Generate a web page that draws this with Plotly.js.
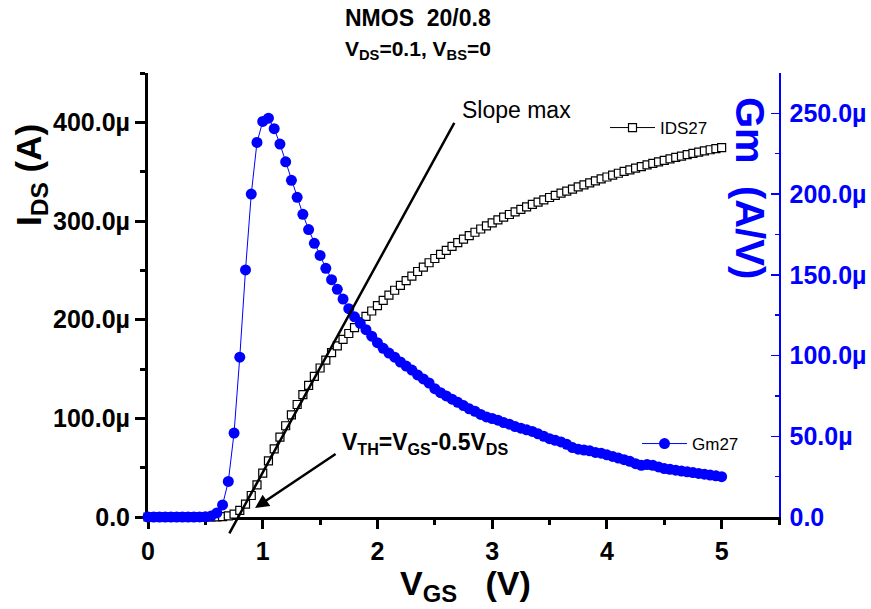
<!DOCTYPE html>
<html>
<head>
<meta charset="utf-8">
<script src="https://cdn.plot.ly/plotly-3.0.1.min.js"></script>
<style>
html,body{margin:0;padding:0;background:#fff;}
#chart{width:871px;height:609px;}
</style>
</head>
<body>
<div id="chart"></div>
<script>
// ---- data (V, µA / µS) ----
const VGS = [0.00,0.05,0.10,0.15,0.20,0.25,0.30,0.35,0.40,0.45,
  0.50,0.55,0.60,0.65,0.70,0.75,0.80,0.85,0.90,0.95,
  1.00,1.05,1.10,1.15,1.20,1.25,1.30,1.35,1.40,1.45,
  1.50,1.55,1.60,1.65,1.70,1.75,1.80,1.85,1.90,1.95,
  2.00,2.05,2.10,2.15,2.20,2.25,2.30,2.35,2.40,2.45,
  2.50,2.55,2.60,2.65,2.70,2.75,2.80,2.85,2.90,2.95,
  3.00,3.05,3.10,3.15,3.20,3.25,3.30,3.35,3.40,3.45,
  3.50,3.55,3.60,3.65,3.70,3.75,3.80,3.85,3.90,3.95,
  4.00,4.05,4.10,4.15,4.20,4.25,4.30,4.35,4.40,4.45,
  4.50,4.55,4.60,4.65,4.70,4.75,4.80,4.85,4.90,4.95,5.00];

const IDS27_uA = [0,0,0,0,0,0,0,0,0,0,
  0.0,0.02,0.1,0.35,1.1,3.0,6.7,13.0,21.8,32.6,
  44.5,56.8,69.0,81.0,92.5,103.5,114.0,124.0,133.5,142.5,
  151.0,159.0,166.5,173.5,180.0,186.0,192.0,197.8,203.4,208.8,
  214.3,219.6,224.8,229.8,234.7,239.5,244.2,248.8,253.3,257.7,
  262.0,266.2,270.3,274.2,278.0,281.7,285.2,288.6,291.9,295.1,
  298.2,301.1,303.9,306.6,309.2,311.8,314.3,316.8,319.2,321.5,
  323.8,326.0,328.2,330.3,332.4,334.5,336.6,338.7,340.7,342.7,
  344.6,346.5,348.4,350.2,351.9,353.6,355.2,356.8,358.4,360.0,
  361.5,363.0,364.4,365.8,367.2,368.5,369.8,371.0,372.2,373.3,374.4];

const Gm27_uS = [0,0,0,0,0,0,0,0,0,0.05,
  0.15,0.6,2.5,7.5,22,52,99,153,200,232,
  245,247,240.5,231,220,208.5,198,187.5,178,169.5,
  162,154,147,141,135,129,124,120,116,112,
  108,104.5,101.5,99,96,93.5,91,88,85.5,83,
  79.5,77,75,73,71,69,67,65.5,63.5,62,
  61,60,58.5,57.5,56,55,54,53,51.5,50,
  48.5,47.5,46.5,45,43,42,41.5,41,40,39.5,
  38.5,37.5,36.5,35.5,34.5,33,32,32.5,32,31,
  30,29.5,29,28.5,28,27.5,27,26.5,26,25.5,25];

const leftTickVals = [0,100e-6,200e-6,300e-6,400e-6];
const leftTickText = ['0.0','100.0\u00B5','200.0\u00B5','300.0\u00B5','400.0\u00B5'];
const rightTickVals = [0,50e-6,100e-6,150e-6,200e-6,250e-6];
const rightTickText = ['0.0','50.0\u00B5','100.0\u00B5','150.0\u00B5','200.0\u00B5','250.0\u00B5'];
const xTickVals = [0,1,2,3,4,5];
const xTickText = ['0','1','2','3','4','5'];

const IDS27 = IDS27_uA.map(v => v*1e-6);
const Gm27 = Gm27_uS.map(v => v*1e-6);

// ---- layout helpers (pixel -> paper) ----
const L = 148, T = 73, W = 631, H = 444;
const px = x => (x - L) / W;
const py = y => (T + H - y) / H;

const FONT = 'Liberation Sans, Arial, sans-serif';
const BLUE = '#0000FF';

const traces = [
  {
    x: VGS, y: IDS27, name: 'IDS27', type: 'scatter', mode: 'lines+markers',
    xaxis: 'x', yaxis: 'y', legend: 'legend', cliponaxis: false,
    line: {color: '#000', width: 1},
    marker: {symbol: 'square', size: 8, color: '#fff', line: {color: '#000', width: 1.2}}
  },
  {
    x: VGS, y: Gm27, name: 'Gm27', type: 'scatter', mode: 'lines+markers',
    xaxis: 'x', yaxis: 'y2', legend: 'legend2', cliponaxis: false,
    line: {color: BLUE, width: 1},
    marker: {symbol: 'circle', size: 11, color: BLUE}
  }
];

const layout = {
  width: 871, height: 609,
  margin: {l: L, r: 871 - L - W, t: T, b: 609 - T - H, pad: 0},
  paper_bgcolor: '#fff', plot_bgcolor: '#fff',
  font: {family: FONT, color: '#000'},
  showlegend: true,
  xaxis: {
    range: [0, 5.5], tickmode: 'array', tickvals: xTickVals, ticktext: xTickText,
    ticks: 'outside', ticklen: 9, tickwidth: 3, tickcolor: '#000',
    minor: {dtick: 0.5, tick0: 0, ticks: 'outside', ticklen: 5, tickwidth: 3, tickcolor: '#000'},
    showline: true, linewidth: 3, linecolor: '#000', showgrid: false, zeroline: false,
    tickfont: {family: FONT, size: 25, color: '#000', weight: 'bold'},
    ticklabelstandoff: 1, layer: 'below traces'
  },
  xaxis2: {
    overlaying: 'x', side: 'top', anchor: 'y', range: [0, 5.5],
    tickmode: 'array', tickvals: xTickVals, showticklabels: false,
    ticks: 'inside', ticklen: 5, tickwidth: 1, tickcolor: '#000',
    showline: true, linewidth: 1, linecolor: '#000', showgrid: false, zeroline: false
  },
  yaxis: {
    range: [0, 450e-6], tickmode: 'array', tickvals: leftTickVals, ticktext: leftTickText,
    ticks: 'outside', ticklen: 10, tickwidth: 3, tickcolor: '#000',
    minor: {dtick: 50e-6, tick0: 0, ticks: 'outside', ticklen: 5, tickwidth: 3, tickcolor: '#000'},
    showline: true, linewidth: 3, linecolor: '#000', showgrid: false, zeroline: false,
    tickfont: {family: FONT, size: 25, color: '#000', weight: 'bold'},
    layer: 'below traces'
  },
  yaxis2: {
    overlaying: 'y', side: 'right', anchor: 'x', range: [0, 275e-6],
    tickmode: 'array', tickvals: rightTickVals, ticktext: rightTickText,
    ticks: 'inside', ticklen: 8, tickwidth: 1.5, tickcolor: BLUE,
    minor: {dtick: 25e-6, tick0: 0, ticks: 'inside', ticklen: 4, tickwidth: 1.5, tickcolor: BLUE},
    showline: true, linewidth: 1.5, linecolor: BLUE, showgrid: false, zeroline: false,
    tickfont: {family: FONT, size: 25, color: BLUE, weight: 'bold'},
    ticklabelstandoff: 4, layer: 'below traces'
  },
  legend: {
    x: px(605), y: py(128), xanchor: 'left', yanchor: 'middle',
    bgcolor: 'rgba(0,0,0,0)', borderwidth: 0, itemwidth: 45,
    font: {family: FONT, size: 17, color: '#000'}
  },
  legend2: {
    x: px(637), y: py(444), xanchor: 'left', yanchor: 'middle',
    bgcolor: 'rgba(0,0,0,0)', borderwidth: 0, itemwidth: 45,
    font: {family: FONT, size: 17, color: '#000'}
  },
  annotations: [
    {xref: 'paper', yref: 'paper', x: px(343), y: py(18), xanchor: 'left', yanchor: 'middle',
     showarrow: false, text: 'NMOS\u00A0\u00A020/0.8',
     font: {family: FONT, size: 23, color: '#000', weight: 'bold'}},
    {xref: 'paper', yref: 'paper', x: px(343), y: py(50), xanchor: 'left', yanchor: 'middle',
     showarrow: false, text: 'V<sub>DS</sub>=0.1, V<sub>BS</sub>=0',
     font: {family: FONT, size: 21, color: '#000', weight: 'bold'}},
    {xref: 'paper', yref: 'paper', x: px(465), y: py(585), xanchor: 'center', yanchor: 'middle',
     showarrow: false, text: 'V<sub>GS</sub>\u00A0\u00A0\u00A0(V)',
     font: {family: FONT, size: 34, color: '#000', weight: 'bold'}},
    {xref: 'paper', yref: 'paper', x: px(31), y: py(175), xanchor: 'center', yanchor: 'middle',
     showarrow: false, textangle: -90, text: 'I<sub>DS</sub> (A)',
     font: {family: FONT, size: 35, color: '#000', weight: 'bold'}},
    {xref: 'paper', yref: 'paper', x: px(750), y: py(188), xanchor: 'center', yanchor: 'middle',
     showarrow: false, textangle: 90, text: 'Gm\u00A0\u00A0(A/V)',
     font: {family: FONT, size: 40, color: BLUE, weight: 'bold'}},
    {xref: 'paper', yref: 'paper', x: px(516), y: py(110), xanchor: 'center', yanchor: 'middle',
     showarrow: false, text: 'Slope max',
     font: {family: FONT, size: 23, color: '#000'}},
    {xref: 'paper', yref: 'paper', x: px(425), y: py(443), xanchor: 'center', yanchor: 'middle',
     showarrow: false, text: 'V<sub>TH</sub>=V<sub>GS</sub>-0.5V<sub>DS</sub>',
     font: {family: FONT, size: 23, color: '#000', weight: 'bold'}},
    // slope max line
    {xref: 'x', yref: 'y', axref: 'x', ayref: 'y', x: 0.709, y: -16.5e-6, ax: 2.677, ay: 401e-6,
     text: '', showarrow: true, arrowhead: 0, arrowwidth: 2.5, arrowcolor: '#000',
     standoff: 0, startstandoff: 0},
    // V_TH arrow
    {xref: 'x', yref: 'y', axref: 'x', ayref: 'y', x: 0.933, y: 9.1e-6, ax: 1.648, ay: 64.8e-6,
     text: '', showarrow: true, arrowhead: 2, arrowsize: 1.1, arrowwidth: 2.5, arrowcolor: '#000',
     standoff: 0, startstandoff: 0}
  ]
};

Plotly.newPlot('chart', traces, layout, {displayModeBar: false, staticPlot: true});
</script>
</body>
</html>
